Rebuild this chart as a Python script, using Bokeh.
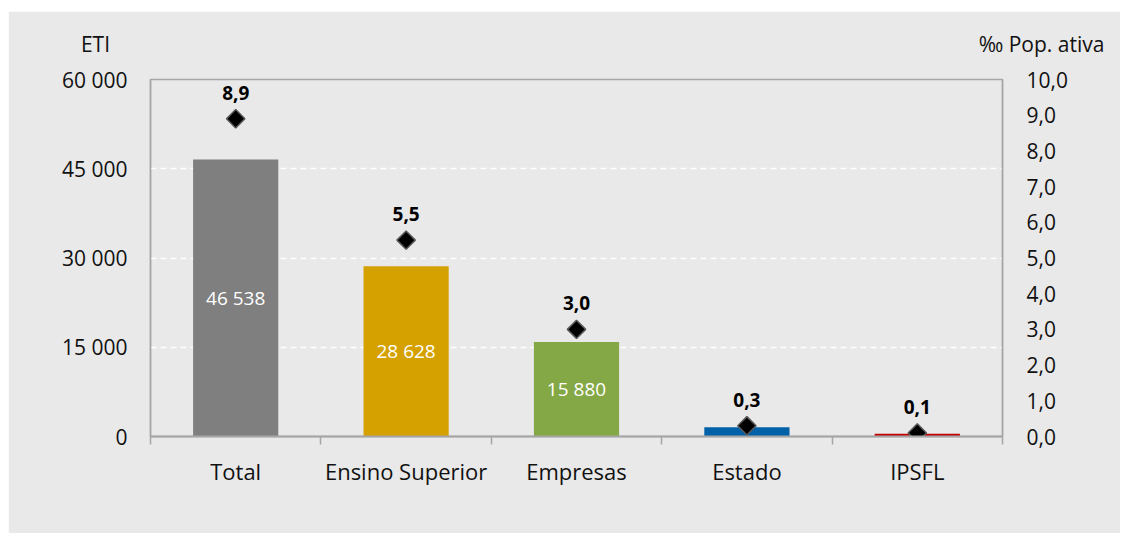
import math
from bokeh.plotting import figure
from bokeh.models import Range1d, LinearAxis, FixedTicker, ColumnDataSource, Label
from bokeh.core.properties import value
from bokeh.embed import file_html
from bokeh.resources import INLINE

categories = ["Total", "Ensino Superior", "Empresas", "Estado", "IPSFL"]
eti = [46538, 28628, 15880, 1560, 470]
permil = [8.9, 5.5, 3.0, 0.3, 0.1]
bar_colors = ["#7f7f7f", "#d5a100", "#84a845", "#0060a8", "#c00000"]
left_ticks = [0, 15000, 30000, 45000, 60000]
right_ticks = [0, 1, 2, 3, 4, 5, 6, 7, 8, 9, 10]
axis_titles = ["ETI", "‰ Pop. ativa"]

FONT = "Open Sans"
BG = "#e9e9e9"
AX = "#a6a6a6"
TXT = "#111111"

def fmt_int(v):
    return f"{int(v):,}".replace(",", " ")

def fmt_dec(v):
    return f"{v:.1f}".replace(".", ",")

xs = [i + 0.5 for i in range(len(categories))]
src = ColumnDataSource(dict(
    x=xs, eti=eti, half=[v / 2 for v in eti], permil=permil, color=bar_colors,
    inner=[fmt_int(v) if v > 5000 else "" for v in eti],
    pm_label=[fmt_dec(v) for v in permil],
))

p = figure(width=1112, height=522, output_backend="svg", toolbar_location=None,
           x_range=Range1d(0, len(categories)), y_range=Range1d(left_ticks[0], left_ticks[-1]),
           min_border_left=142, min_border_right=118, min_border_top=68, min_border_bottom=97)
p.margin = (11, 0, 0, 8)
p.background_fill_color = BG
p.border_fill_color = BG
p.outline_line_color = AX
p.outline_line_width = 1.5
p.extra_y_ranges = {"pm": Range1d(right_ticks[0], right_ticks[-1])}

# grid
p.xgrid.visible = False
p.ygrid.ticker = FixedTicker(ticks=left_ticks[1:-1])
p.ygrid.grid_line_color = "white"
p.ygrid.grid_line_dash = "6 4"
p.ygrid.grid_line_width = 1.5

# x axis
xa = p.xaxis[0]
xa.ticker = FixedTicker(ticks=xs, minor_ticks=list(range(len(categories) + 1)))
xa.major_label_overrides = {x: c for x, c in zip(xs, categories)}
xa.major_tick_line_color = None
xa.minor_tick_in = 0
xa.minor_tick_out = 8
xa.minor_tick_line_color = AX
xa.minor_tick_line_width = 1.5
xa.axis_line_color = AX
xa.axis_line_width = 2
xa.major_label_text_font = FONT
xa.major_label_text_font_size = "22px"
xa.major_label_text_color = TXT
xa.major_label_standoff = 11

# left axis
ya = p.yaxis[0]
ya.ticker = FixedTicker(ticks=left_ticks)
ya.major_label_overrides = {t: fmt_int(t) for t in left_ticks}
ya.major_tick_line_color = None
ya.minor_tick_line_color = None
ya.axis_line_color = AX
ya.axis_line_width = 1.5
ya.major_label_text_font = FONT
ya.major_label_text_font_size = "21px"
ya.major_label_text_color = TXT
ya.major_label_standoff = 17

# right axis
ra = LinearAxis(y_range_name="pm", ticker=FixedTicker(ticks=right_ticks))
ra.major_label_overrides = {t: fmt_dec(t) for t in right_ticks}
ra.major_tick_line_color = None
ra.minor_tick_line_color = None
ra.axis_line_color = AX
ra.axis_line_width = 1.5
ra.major_label_text_font = FONT
ra.major_label_text_font_size = "21px"
ra.major_label_text_color = TXT
ra.major_label_standoff = 18
p.add_layout(ra, "right")

# bars
p.vbar(x="x", top="eti", width=0.5, fill_color="color", line_color=None, source=src)
p.text(x="x", y="half", text="inner", source=src, text_color="white",
       text_font=value(FONT), text_font_size="19px", text_align="center", text_baseline="middle")

# diamonds
p.scatter(x="x", y="permil", y_range_name="pm", source=src, marker="square", angle=math.pi / 4,
          size=13, fill_color="black", line_color="#595959", line_width=1.5)
p.text(x="x", y="permil", y_range_name="pm", text="pm_label", source=src, y_offset=-26,
       text_color="black", text_font=value(FONT), text_font_style="bold", text_font_size="19px",
       text_align="center", text_baseline="middle")

# axis titles, in canvas coordinates
p.add_layout(Label(x=87, y=32, x_units="canvas", y_units="canvas", text=axis_titles[0],
                   text_font=FONT, text_font_size="21px", text_color=TXT,
                   text_align="center", text_baseline="middle"), "above")
p.add_layout(Label(x=1033, y=32, x_units="canvas", y_units="canvas", text=axis_titles[1],
                   text_font=FONT, text_font_size="21px", text_color=TXT,
                   text_align="center", text_baseline="middle"), "above")

open("out.html", "w").write(file_html(p, INLINE))
